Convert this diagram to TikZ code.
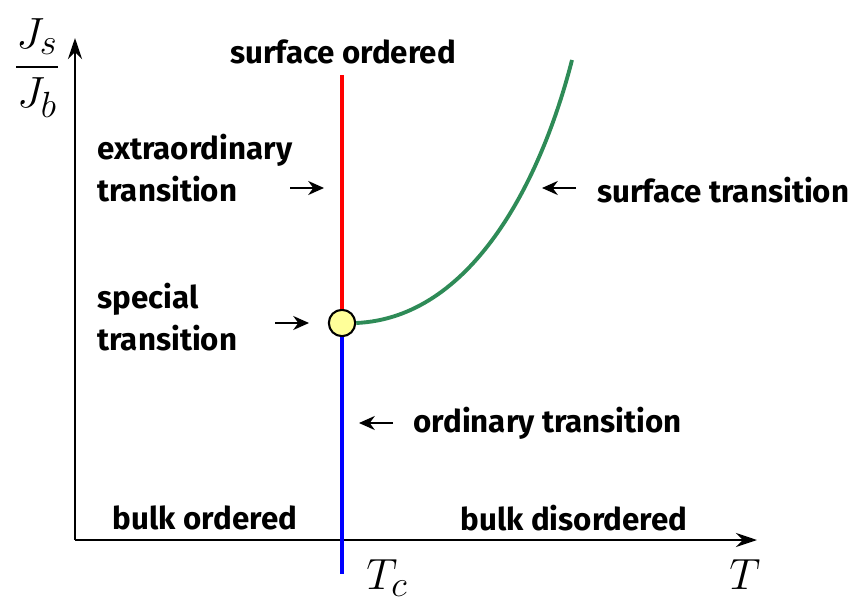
\documentclass[tikz,border=0pt]{standalone}
\usepackage{amsmath}
\usepackage{fontspec}
\setsansfont{Fira Sans}
\usepackage{xcolor}
\definecolor{lineSurf}{HTML}{2E8B57}
\definecolor{lineOrd}{HTML}{0000FF}
\definecolor{lineExtra}{HTML}{FF0000}
\definecolor{dotSpecial}{HTML}{FFFF99}
\usetikzlibrary{arrows.meta}

\begin{document}
\begin{tikzpicture}[x=0.02cm, y=-0.02cm,
    lbl/.style={font=\sffamily\bfseries\fontsize{17.8}{24}\selectfont, inner sep=0pt, align=left},
    mathlbl/.style={font=\fontsize{29}{35}\selectfont, inner sep=0pt},
    pointer/.style={-{Stealth[length=9pt, width=8pt]}, line width=1.1pt},
    axis/.style={-{Stealth[length=12pt, width=8pt]}, line width=1.6pt}]
  \useasboundingbox (0,0) rectangle (851,601);
  % axes
  \coordinate (O) at (75,540);
  \coordinate (Ytop) at (75,38);
  \coordinate (Xend) at (757,540);
  \draw[axis] (O) -- (Ytop);
  \draw[axis] (O) -- (Xend);
  \node[mathlbl] (ylab) at (37,68) {$\dfrac{J_s}{J_b}$};
  \node[mathlbl] (xlab) at (745,575) {$T$};
  \node[mathlbl] (tc) at (387,578) {$T_c$};
  % phase boundaries
  \node[circle, draw, line width=1.2pt, fill=dotSpecial, minimum size=15pt, inner sep=0pt] (S) at (342,323) {};
  \coordinate (Rtop) at (342,75);
  \coordinate (Bbot) at (342,574);
  \coordinate (Gend) at (572,60);
  \draw[lineExtra, line width=2.2pt] (S.north) -- (Rtop);
  \draw[lineOrd, line width=2.2pt] (S.south) -- (Bbot);
  \draw[lineSurf, line width=2.2pt] (S.east) .. controls (470,318) and (540,185) .. (Gend);
  % labels
  \node[lbl] (surford) at (343,52) {surface ordered};
  \node[lbl, anchor=west] (extra) at (97,168) {extraordinary\\transition};
  \node[lbl, anchor=west] (special) at (97,317) {special\\transition};
  \node[lbl, anchor=west] (surftr) at (597,190) {surface transition};
  \node[lbl, anchor=west] (ordtr) at (413,423) {ordinary transition};
  \node[lbl] (bulkord) at (205,518) {bulk ordered};
  \node[lbl] (bulkdis) at (574,518) {bulk disordered};
  % pointers
  \coordinate (p1a) at (290,188); \coordinate (p1b) at (324,188);
  \coordinate (p2a) at (275,323); \coordinate (p2b) at (309,323);
  \coordinate (p3a) at (576,188); \coordinate (p3b) at (542,188);
  \coordinate (p4a) at (393,423); \coordinate (p4b) at (359,423);
  \draw[pointer] (p1a) -- (p1b);
  \draw[pointer] (p2a) -- (p2b);
  \draw[pointer] (p3a) -- (p3b);
  \draw[pointer] (p4a) -- (p4b);
\end{tikzpicture}
\end{document}
